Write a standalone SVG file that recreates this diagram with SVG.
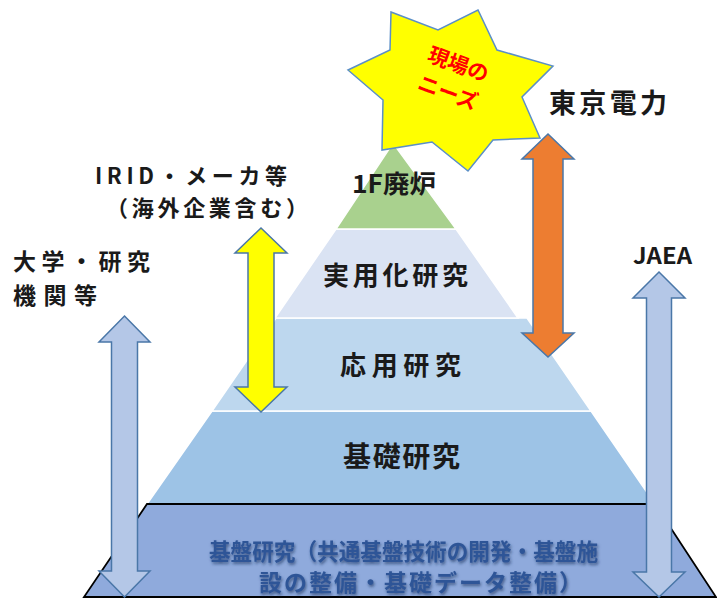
<svg xmlns="http://www.w3.org/2000/svg" width="717" height="598" viewBox="0 0 717 598">
<defs>
<style>
.lbl{font-family:"Noto Sans CJK JP","Noto Sans",sans-serif;font-weight:bold;fill:#1a1a1a}
.band{stroke:#ffffff;stroke-width:1.5}
.arr{stroke:#4A77A8;stroke-width:1.5;stroke-linejoin:miter}
.blue{fill:#B4C7E7}
.base{font-family:"Noto Sans CJK JP","Noto Sans",sans-serif;font-weight:bold;fill:#2F5597;font-size:23px}
</style>
<filter id="glow" x="-10%" y="-30%" width="120%" height="160%">
<feGaussianBlur in="SourceAlpha" stdDeviation="1.5"/>
<feOffset dx="1" dy="1.5" result="b"/>
<feFlood flood-color="#1F3864" flood-opacity="0.7"/>
<feComposite in2="b" operator="in"/>
<feMerge><feMergeNode/><feMergeNode in="SourceGraphic"/></feMerge>
</filter>
</defs>
<rect width="717" height="598" fill="#ffffff"/>
<g id="pyramid">
<g id="band-kiso"><polygon class="band" fill="#9DC3E6" points="212,411 591,411 655,504 147,504"/></g>
<g id="band-ouyou"><polygon class="band" fill="#BDD7EE" points="276,318 527,318 591,411 212,411"/></g>
<g id="band-jitsuyou"><polygon class="band" fill="#DAE3F3" points="336,229 456,229 518,318 275,318"/></g>
<g id="band-1f"><polygon class="band" fill="#A9D18E" points="393,143 456,229 336,229"/></g>
<g id="kiban"><polygon fill="#8FAADC" stroke="#000000" stroke-width="1.8" points="147,504 655,504 716,597 84,597"/></g>
</g>
<g id="needs-star">
<polygon fill="#FFFF00" stroke="#5B8FC7" stroke-width="1.5" points="391,12 438,30 478,10 497,50 553,66 522,97 540,138 493,140 468,171 432,142 382,150 383,100 348,70 390,50"/>
<g transform="translate(453,79) rotate(20)" font-family="'Noto Sans CJK JP','Noto Sans',sans-serif" font-weight="bold" font-size="21" fill="#FF0000" text-anchor="middle">
<text x="0" y="-8">現場の</text>
<text x="0" y="22">ニーズ</text>
</g>
</g>
<g id="connectors">
<path class="arr" fill="#FFFF00" d="M261,228 L287,253 L274,253 L274,387 L287,387 L261,412 L235,387 L248,387 L248,253 L235,253 Z"/>
<path class="arr" fill="#ED7D31" d="M548,134 L574,159 L563,159 L563,333 L574,333 L548,357 L522,333 L533,333 L533,159 L522,159 Z"/>
<path class="arr blue" d="M659,272 L685,298 L671.5,298 L671.5,572 L685,572 L659,597 L633,572 L646.5,572 L646.5,298 L633,298 Z"/>
<path class="arr blue" d="M124.5,316 L150,342 L137.5,342 L137.5,571 L150,571 L124.5,597 L99,571 L111.5,571 L111.5,342 L99,342 Z"/>
</g>
<g id="labels-pyramid">
<text class="lbl" x="352" y="193" font-size="25" textLength="84" lengthAdjust="spacingAndGlyphs">1F廃炉</text>
<text class="lbl" x="323" y="285" font-size="26" textLength="145" lengthAdjust="spacing">実用化研究</text>
<text class="lbl" x="340" y="375" font-size="26" textLength="121" lengthAdjust="spacing">応用研究</text>
<text class="lbl" x="343" y="467" font-size="28" textLength="117" lengthAdjust="spacing">基礎研究</text>
</g>
<g id="label-kiban" filter="url(#glow)">
<text class="base" x="209" y="560" textLength="389" lengthAdjust="spacingAndGlyphs">基盤研究（共通基盤技術の開発・基盤施</text>
<text class="base" x="259" y="591" textLength="323" lengthAdjust="spacing">設の整備・基礎データ整備）</text>
</g>
<g id="label-tepco"><text class="lbl" x="549" y="113" font-size="27" textLength="118" lengthAdjust="spacing">東京電力</text></g>
<g id="label-irid">
<text class="lbl" x="95" y="184" font-size="22" textLength="192" lengthAdjust="spacing">IRID・メーカ等</text>
<text class="lbl" x="106" y="216" font-size="22" textLength="202" lengthAdjust="spacing">（海外企業含む）</text>
</g>
<g id="label-univ">
<text class="lbl" x="13" y="270" font-size="23" textLength="137" lengthAdjust="spacing">大学・研究</text>
<text class="lbl" x="13" y="304" font-size="23" textLength="84" lengthAdjust="spacing">機関等</text>
</g>
<g id="label-jaea"><text class="lbl" x="633" y="264" font-size="22" font-family="'Liberation Sans',sans-serif" textLength="59" lengthAdjust="spacingAndGlyphs">JAEA</text></g>
</svg>
